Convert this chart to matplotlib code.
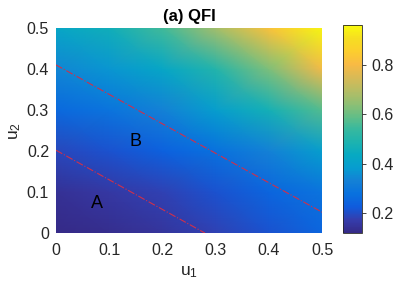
import numpy as np
import matplotlib
matplotlib.use('Agg')
import matplotlib.pyplot as plt
from matplotlib.colors import LinearSegmentedColormap

plt.rcParams['font.family'] = ['Liberation Sans', 'DejaVu Sans']
plt.rcParams['mathtext.fontset'] = 'custom'
plt.rcParams['mathtext.rm'] = 'Liberation Sans'
plt.rcParams['mathtext.it'] = 'Liberation Sans'

# grid of QFI values (rows: u2, cols: u1)
u1 = [0.0, 0.1, 0.2, 0.3, 0.4, 0.5]
u2 = [0.0, 0.1, 0.2, 0.3, 0.4, 0.5]
qfi = [
    [0.12, 0.13, 0.15, 0.18, 0.21, 0.25],
    [0.14, 0.16, 0.18, 0.21, 0.25, 0.29],
    [0.19, 0.21, 0.24, 0.28, 0.33, 0.39],
    [0.26, 0.29, 0.33, 0.39, 0.47, 0.57],
    [0.34, 0.37, 0.42, 0.50, 0.62, 0.79],
    [0.42, 0.46, 0.55, 0.67, 0.82, 0.95],
]

# boundary lines between regions
line_a_u1 = [0.0, 0.28]
line_a_u2 = [0.202, 0.0]
line_b_u1 = [0.0, 0.5]
line_b_u2 = [0.41, 0.051]

labels = ['A', 'B']
label_u1 = [0.077, 0.150]
label_u2 = [0.071, 0.224]

# parula-like colormap
parula = LinearSegmentedColormap.from_list('parula', [
    (0.2081, 0.1663, 0.5292), (0.2081, 0.2386, 0.6771), (0.0591, 0.3598, 0.8683),
    (0.0329, 0.4430, 0.8720), (0.0779, 0.5040, 0.8384), (0.0265, 0.6137, 0.8135),
    (0.0267, 0.6642, 0.7607), (0.1133, 0.7015, 0.6859), (0.2178, 0.7250, 0.6193),
    (0.3953, 0.7459, 0.5244), (0.5709, 0.7485, 0.4494), (0.7184, 0.7411, 0.3905),
    (0.8507, 0.7299, 0.3360), (0.9739, 0.7314, 0.2666), (0.9880, 0.8066, 0.1794),
    (0.9626, 0.8705, 0.1309), (0.9763, 0.9831, 0.0538)])

fig = plt.figure(figsize=(4.15, 2.86), dpi=100)
ax = fig.add_axes([0.135, 0.185, 0.641, 0.717])
cax = fig.add_axes([0.8265, 0.185, 0.046, 0.7275])

mesh = ax.pcolormesh(u1, u2, np.array(qfi), shading='gouraud', cmap=parula,
                     vmin=0.12, vmax=0.96, rasterized=True)
ax.plot(line_a_u1, line_a_u2, color='#d0304a', linestyle='-.', linewidth=0.8)
ax.plot(line_b_u1, line_b_u2, color='#d0304a', linestyle='-.', linewidth=0.8)
for t, x, y in zip(labels, label_u1, label_u2):
    ax.text(x, y, t, fontsize=13, ha='center', va='center', color='black')

ax.set_xlim(0, 0.5)
ax.set_ylim(0, 0.5)
ax.set_xticks([0, 0.1, 0.2, 0.3, 0.4, 0.5])
ax.set_yticks([0, 0.1, 0.2, 0.3, 0.4, 0.5])
ax.set_xticklabels(['0', '0.1', '0.2', '0.3', '0.4', '0.5'])
ax.set_yticklabels(['0', '0.1', '0.2', '0.3', '0.4', '0.5'])
ax.tick_params(labelsize=11.5, colors='#262626', length=0)
ax.tick_params(axis='x', pad=7)
ax.tick_params(axis='y', pad=5)
for s in ax.spines.values():
    s.set_visible(False)
ax.set_xlabel('u$_1$', fontsize=12.5, color='#262626', labelpad=5)
ax.set_ylabel('u$_2$', fontsize=12.5, color='#262626', labelpad=3)
ax.set_title('(a) QFI', fontsize=12, fontweight='bold', color='black', pad=5)

cb = fig.colorbar(mesh, cax=cax, ticks=[0.2, 0.4, 0.6, 0.8])
cb.ax.set_yticklabels(['0.2', '0.4', '0.6', '0.8'])
cb.ax.tick_params(labelsize=11.5, colors='#262626', direction='out', length=3, width=0.6)
cb.outline.set_edgecolor('#262626')
cb.outline.set_linewidth(0.6)

fig.savefig('out.png', dpi=100)
